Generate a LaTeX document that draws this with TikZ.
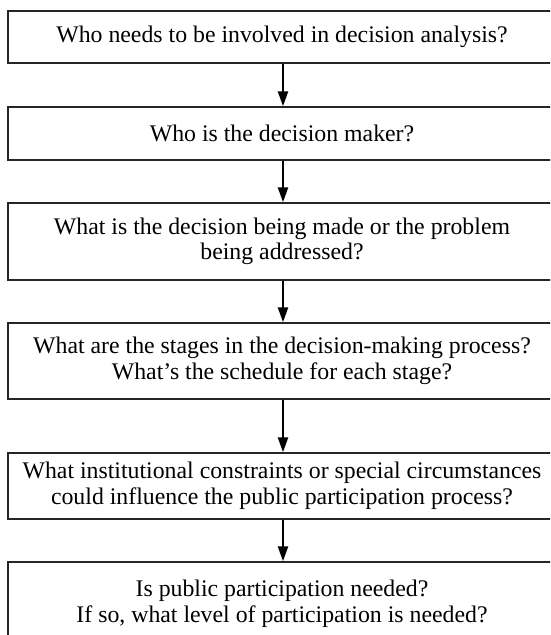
\documentclass[tikz,border=0pt]{standalone}
\usepackage{fontspec}
\setmainfont{Liberation Serif}
\usetikzlibrary{arrows.meta}
\begin{document}
\begin{tikzpicture}[x=1pt,y=-1pt,
  qbox/.style={draw=black!85, line width=1.4pt, rectangle, minimum width=548pt,
    inner sep=0pt, align=center, font=\fontsize{23.8}{25.5}\selectfont},
  flow/.style={line width=2.2pt, -{Triangle[width=10pt,length=15pt]}}]
\useasboundingbox (0,0) rectangle (550,635);
\clip (0,0) rectangle (550,635);
% question boxes, top to bottom
\node[qbox, minimum height=52pt] (b1) at (282,37)
  {Who needs to be involved in decision analysis?};
\node[qbox, minimum height=53pt] (b2) at (282,133.5)
  {Who is the decision maker?};
\node[qbox, minimum height=77pt] (b3) at (282,241.5)
  {What is the decision being made or the problem\\being addressed?};
\node[qbox, minimum height=76pt] (b4) at (282,361)
  {What are the stages in the decision-making process?\\What’s the schedule for each stage?};
\node[qbox, minimum height=66pt] (b5) at (282,486)
  {What institutional constraints or special circumstances\\could influence the public participation process?};
\node[qbox, minimum height=84pt] (b6) at (282,604)
  {Is public participation needed?\\If so, what level of participation is needed?};
% connectors
\draw[flow] ([xshift=1pt]b1.south) -- ([xshift=1pt]b2.north);
\draw[flow] ([xshift=1pt]b2.south) -- ([xshift=1pt]b3.north);
\draw[flow] ([xshift=1pt]b3.south) -- ([xshift=1pt]b4.north);
\draw[flow] ([xshift=1pt]b4.south) -- ([xshift=1pt]b5.north);
\draw[flow] ([xshift=1pt]b5.south) -- ([xshift=1pt]b6.north);
\end{tikzpicture}
\end{document}
